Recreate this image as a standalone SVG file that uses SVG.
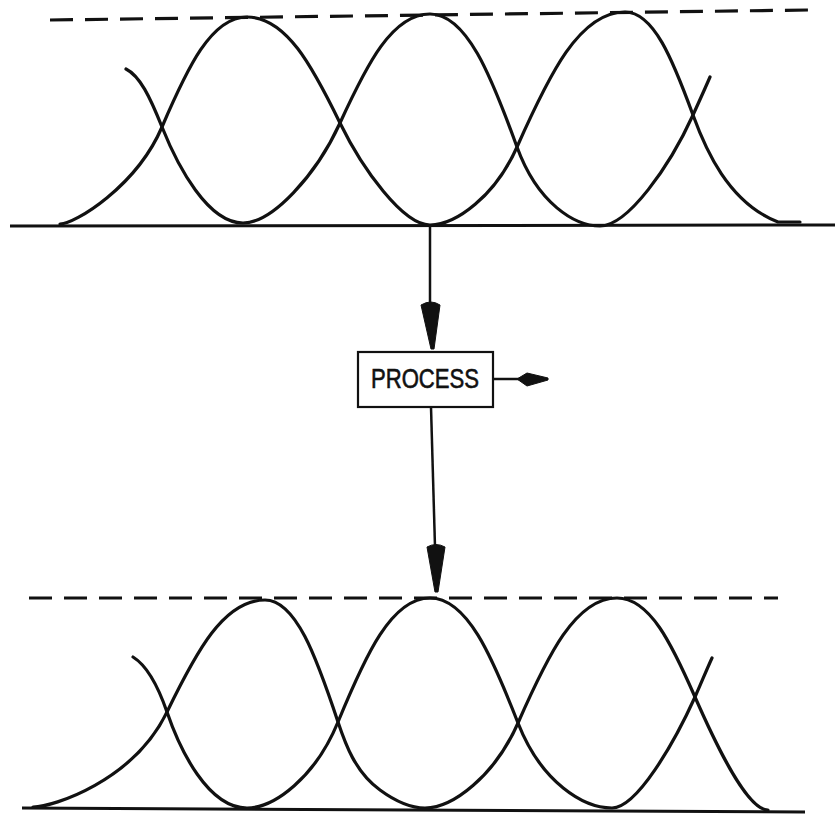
<svg xmlns="http://www.w3.org/2000/svg" width="835" height="820" viewBox="0 0 835 820">
<style>
.curve{fill:none;stroke:#111;stroke-width:3.2;stroke-linecap:round;stroke-linejoin:round}
.base{fill:none;stroke:#111;stroke-width:3}
.dash{fill:none;stroke:#111;stroke-width:3.2;stroke-dasharray:23 12}
.conn{fill:none;stroke:#111;stroke-width:2.5}
.head{fill:#111;stroke:#111;stroke-width:1;stroke-linejoin:round}
.box{fill:#fff;stroke:#111;stroke-width:2.2}
.lbl{font-family:"Liberation Sans",Arial,sans-serif;font-size:27px;fill:#111;stroke:#111;stroke-width:0.6}
</style>
<rect width="835" height="820" fill="#fff"/>
<g id="top-eye">
<path class="dash" d="M50,20 L808,10"/>
<path class="base" d="M10,226 L835,225"/>
<path class="curve" d="M60,224 C75,224 136.5,186.4 162,127 C187.5,67.6 211.3,17 247,17 C286,17 312.1,65.8 340,123 C362.5,169.1 403,225 430,225 C456.1,225 495.3,195.9 517,147 C549.4,74.1 579.6,12 625,12 C653.6,12 672.6,59.3 693,115 C705,148 728,202.5 778,222 L800,222"/>
<path class="curve" d="M126,69 C140,76 150,97 162,127 C178,167 208,223 243,223 C272.1,223 315.8,175.9 340,123 C367,64.1 392.2,14 430,14 C466.5,14 490.9,75.2 517,147 C537.8,204 575.1,226 600,226 C627.9,226 669.8,166 693,115 C699,101.8 705,88.6 710,77"/>
</g>
<g id="bottom-eye">
<path class="dash" d="M29,598 L778,598"/>
<path class="base" d="M22,808 L805,812"/>
<path class="curve" d="M33,807 C53,807 133.5,781 167,712 C196.4,651.5 223.8,600 265,600 C295.7,600 316.1,656.3 338,722 C345,743 355,772 380,790 C395,801 410,808 425,808 C452.9,808 494.8,775.8 518,723 C547.7,655.5 575.4,598 617,598 C649.8,598 671.6,643.6 695,697 C713.3,738.6 746.1,810 768,810"/>
<path class="curve" d="M133,657 C146,665 158,686 167,712 C180,750 208,808 247,808 C274.3,808 315.3,777.3 338,722 C365.6,655 391.4,598 430,598 C467,598 491.6,655.4 518,723 C541.5,783 583.8,808 612,808 C636.9,808 674.3,742.7 695,697 C700.5,684.9 706,671 712,658"/>
</g>
<g id="connectors">
<path class="conn" d="M430,226 L430,305"/>
<path class="head" d="M421,305 Q431,299 440,305 L434,349 L431,349 Z"/>
<path class="conn" d="M431,407 L435,547"/>
<path class="head" d="M427,547 Q436,542 445,547 L438,592 L435,592 Z"/>
<path class="conn" d="M493,379 L520,379"/>
<path class="head" d="M517,379 L527,373 L548,378 L548,380 L527,386 Z"/>
</g>
<g id="process">
<rect class="box" x="358" y="352" width="135" height="55"/>
<text class="lbl" x="371" y="388" textLength="108" lengthAdjust="spacingAndGlyphs">PROCESS</text>
</g>
</svg>
